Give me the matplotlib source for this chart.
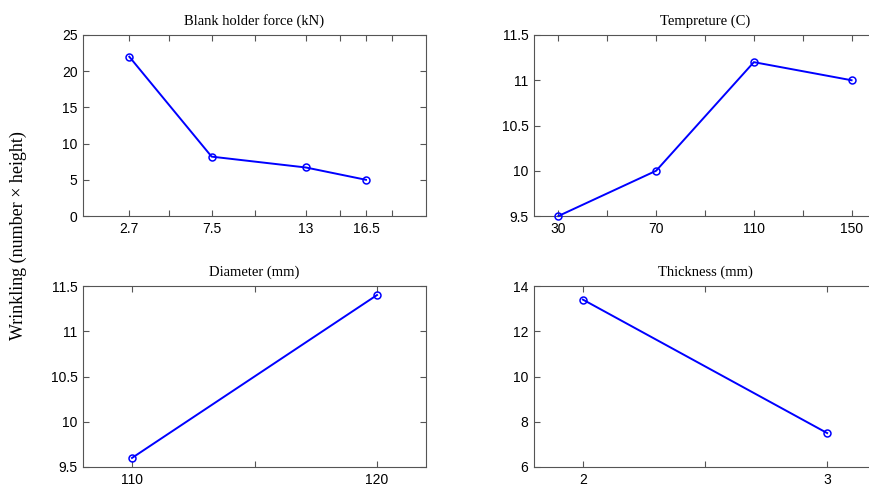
import matplotlib
matplotlib.use("Agg")
import matplotlib.pyplot as plt

# Data
bhf_x = [2.7, 7.5, 13, 16.5]
bhf_y = [22.0, 8.2, 6.7, 5.0]
temp_x = [30, 70, 110, 150]
temp_y = [9.5, 10.0, 11.2, 11.0]
diam_x = [110, 120]
diam_y = [9.6, 11.4]
thick_x = [2, 3]
thick_y = [13.4, 7.5]

titles = ["Blank holder force (kN)", "Tempreture (C)", "Diameter (mm)", "Thickness (mm)"]
ylabel = "Wrinkling (number \u00d7 height)"

bhf_ticks = [2.7, 5, 7.5, 10, 13, 15, 16.5, 18]
bhf_labels = ["2.7", "", "7.5", "", "13", "", "16.5", ""]
temp_ticks = [30, 50, 70, 90, 110, 130, 150]
temp_labels = ["30", "", "70", "", "110", "", "150"]
diam_ticks = [110, 115, 120]
diam_labels = ["110", "", "120"]
thick_ticks = [2, 2.5, 3]
thick_labels = ["2", "", "3"]

W, H = 870, 487
fig = plt.figure(figsize=(W / 100, H / 100), dpi=100)

sans = ["Liberation Sans", "DejaVu Sans"]
serif = ["Liberation Serif", "DejaVu Serif"]

def make_ax(px_left, px_top, px_w, px_h):
    return fig.add_axes([px_left / W, (H - px_top - px_h) / H, px_w / W, px_h / H])

panels = [
    (make_ax(83, 35, 343, 181), bhf_x, bhf_y, (0, 20), (0, 25), bhf_ticks, bhf_labels, [0, 5, 10, 15, 20, 25], ["0", "5", "10", "15", "20", "25"], False),
    (make_ax(534, 35, 342, 181), temp_x, temp_y, (20, 160), (9.5, 11.5), temp_ticks, temp_labels, [9.5, 10, 10.5, 11, 11.5], ["9.5", "10", "10.5", "11", "11.5"], True),
    (make_ax(83, 286, 343, 181), diam_x, diam_y, (108, 122), (9.5, 11.5), diam_ticks, diam_labels, [9.5, 10, 10.5, 11, 11.5], ["9.5", "10", "10.5", "11", "11.5"], False),
    (make_ax(534, 286, 342, 181), thick_x, thick_y, (1.8, 3.2), (6, 14), thick_ticks, thick_labels, [6, 8, 10, 12, 14], ["6", "8", "10", "12", "14"], True),
]

for (ax, x, y, xl, yl, xt, xtl, yt, ytl, clipped), title in zip(panels, titles):
    ax.plot(x, y, color="#0000ff", lw=1.4, marker="o", ms=5, mfc="none", mec="#0000ff", mew=1.1, clip_on=False, zorder=3)
    ax.set_xlim(*xl)
    ax.set_ylim(*yl)
    ax.set_xticks(xt)
    ax.set_xticklabels(xtl)
    ax.set_yticks(yt)
    ax.set_yticklabels(ytl)
    ax.tick_params(direction="in", length=4, width=0.8, color="#555555", top=True, right=not clipped,
                   labelsize=10, pad=4)
    for lab in ax.get_xticklabels() + ax.get_yticklabels():
        lab.set_family(sans)
    for sp in ax.spines.values():
        sp.set_color("#555555")
        sp.set_linewidth(0.8)
    if clipped:
        ax.spines["right"].set_visible(False)
    ax.set_title(title, family=serif, fontsize=10.5, pad=7)

fig.text(18 / W, (H - 236) / H, ylabel, rotation=90, va="center", ha="center", family=serif, fontsize=13)

fig.savefig("out.png", dpi=100, facecolor="white")
